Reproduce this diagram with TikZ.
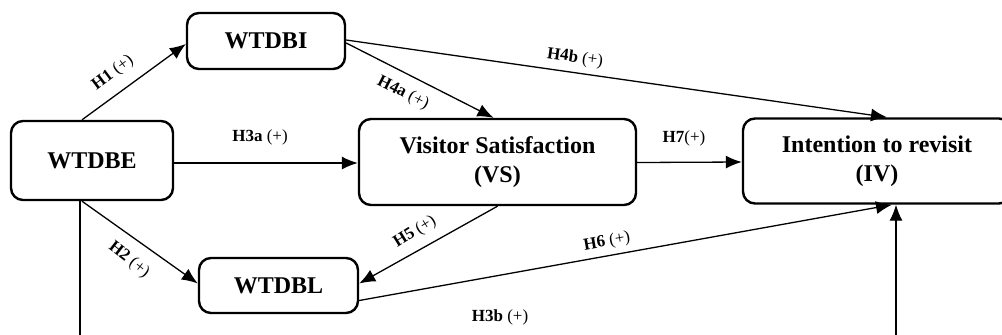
\documentclass[tikz,border=0pt]{standalone}
\usepackage{fontspec}
\setmainfont{Liberation Serif}
\usetikzlibrary{arrows.meta,calc}
\begin{document}
\begin{tikzpicture}[x=0.5pt,y=-0.5pt,
  box/.style={draw, line width=1.2pt, rounded corners=6pt, align=center, inner sep=0pt,
    font=\bfseries\fontsize{12}{14.5}\selectfont},
  conn/.style={line width=0.65pt, -{Latex[length=8pt,width=6.5pt]}},
  lab/.style={font=\fontsize{8.5}{10}\selectfont, inner sep=1pt}]
\fill[white] (0,0) rectangle (1002,334);
\useasboundingbox (0,0) rectangle (1002,334);
\clip (0,0) rectangle (1002,334);
% boxes
\node[box, minimum width=79pt, minimum height=28pt] (i) at (266,41) {WTDBI};
\node[box, minimum width=81pt, minimum height=39.5pt] (e) at (92,160.5) {WTDBE};
\node[box, minimum width=138.5pt, minimum height=43pt] (vs) at (497.5,162) {Visitor Satisfaction\\(VS)};
\node[box, minimum width=134pt, minimum height=42.5pt] (iv) at (877,161) {Intention to revisit\\(IV)};
\node[box, minimum width=79.5pt, minimum height=27.5pt] (l) at (278.5,285.5) {WTDBL};
% connectors
\draw[conn] ($(e.north)+(-10,0)$) -- ($(i.west)+(0,3)$);
\draw[conn] ($(e.east)+(0,2.5)$) -- ($(vs.west)+(0,1)$);
\draw[conn] ($(i.east)+(0,2)$) -- ($(vs.north)+(-4,0)$);
\draw[conn] ($(i.east)+(0,-1)$) -- ($(iv.north)+(10,0)$);
\draw[conn] ($(vs.east)+(0,0.5)$) -- ($(iv.west)+(0,1)$);
\draw[conn] ($(e.south)+(-10,0)$) -- ($(l.west)+(0,-2)$);
\draw[conn] (vs.south) -- ($(l.east)+(0,-2)$);
\draw[conn] ($(l.east)+(0,15)$) -- ($(iv.south)+(15,0)$);
\coordinate (b1) at ($(e.south)+(-12,170)$);
\draw[conn] ($(e.south)+(-12,0)$) -- (b1) -| ($(iv.south)+(19,0)$);
% labels
\node[lab, rotate=37] (h1) at (113,73) {\textbf{H1} (+)};
\node[lab] (h3a) at (260,137) {\textbf{H3a} (+)};
\node[lab, rotate=-27] (h4a) at (403,93) {\textbf{H4a} (+)};
\node[lab, rotate=-8] (h4b) at (575,58) {\textbf{H4b} (+)};
\node[lab] (h7) at (684,138) {\textbf{H7}(+)};
\node[lab, rotate=-38] (h2) at (129,260) {\textbf{H2} (+)};
\node[lab, rotate=32] (h5) at (415,232) {\textbf{H5} (+)};
\node[lab, rotate=10] (h6) at (607,242) {\textbf{H6} (+)};
\node[lab] (h3b) at (500,317) {\textbf{H3b} (+)};
\end{tikzpicture}
\end{document}
